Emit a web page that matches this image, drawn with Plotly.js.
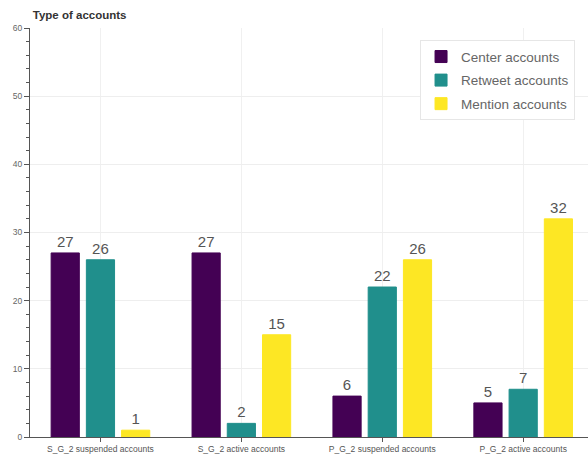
<!DOCTYPE html>
<html>
<head>
<meta charset="utf-8">
<script src="https://cdn.plot.ly/plotly-3.0.1.min.js"></script>
<style>html,body{margin:0;padding:0;background:#fff;}#chart{width:588px;height:462px;}</style>
</head>
<body>
<div id="chart"></div>
<script>
const categories = ["S_G_2 suspended accounts", "S_G_2 active accounts", "P_G_2 suspended accounts", "P_G_2 active accounts"];
const seriesNames = ["Center accounts", "Retweet accounts", "Mention accounts"];
const centerValues = [27, 27, 6, 5];
const retweetValues = [26, 2, 22, 7];
const mentionValues = [1, 15, 26, 32];
const colors = ["#440154", "#208F8C", "#FDE724"];
const yTicks = [0, 10, 20, 30, 40, 50, 60];

const allValues = [centerValues, retweetValues, mentionValues];
const traces = allValues.map((vals, i) => ({
  type: 'bar',
  name: seriesNames[i],
  x: categories,
  y: vals,
  text: vals.map(String),
  textposition: 'outside',
  cliponaxis: false,
  textfont: {family: 'Liberation Sans, Arial, sans-serif', size: 15, color: '#555'},
  marker: {color: colors[i], line: {color: colors[i], width: 1}},
  legendgroup: 'g' + i,
  hoverinfo: 'x+y+name'
}));

const layout = {
  width: 588, height: 462,
  margin: {l: 30, r: 0, t: 28, b: 25, pad: 0},
  paper_bgcolor: '#fff', plot_bgcolor: '#fff',
  barmode: 'group', bargap: 0.25, bargroupgap: 0.2,
  font: {family: 'Liberation Sans, Arial, sans-serif', color: '#444'},
  title: {
    text: '<b>Type of accounts</b>',
    font: {size: 11.5, color: '#333', family: 'Liberation Sans, Arial, sans-serif'},
    xref: 'paper', x: 0.005, xanchor: 'left',
    yref: 'container', y: 0.967, yanchor: 'middle'
  },
  xaxis: {
    type: 'category',
    range: [-0.5, 3.46],
    showgrid: true, gridcolor: '#f0f0f0', gridwidth: 1,
    showline: true, linecolor: '#555', linewidth: 1,
    ticks: 'outside', ticklen: 4, tickcolor: '#555',
    tickfont: {size: 8.5, color: '#555'},
    zeroline: false, fixedrange: true
  },
  yaxis: {
    range: [0, 60],
    tickvals: yTicks,
    ticktext: yTicks.map(String),
    showgrid: true, gridcolor: '#eeeeee', gridwidth: 1,
    showline: true, linecolor: '#555', linewidth: 1,
    ticks: 'outside', ticklen: 5, tickcolor: '#555',
    minor: {dtick: 2, ticks: 'outside', ticklen: 3, tickcolor: '#555', showgrid: false},
    tickfont: {size: 8.5, color: '#666'},
    zeroline: false, fixedrange: true
  },
  legend: {
    x: 0.699, y: 0.97, xanchor: 'left', yanchor: 'top',
    bgcolor: '#fff', bordercolor: '#e6e6e6', borderwidth: 1,
    font: {size: 13.5, color: '#666'},
    traceorder: 'grouped', tracegroupgap: 3,
    itemwidth: 30
  },
  showlegend: true
};

Plotly.newPlot('chart', traces, layout, {displayModeBar: false, staticPlot: true});
</script>
</body>
</html>
